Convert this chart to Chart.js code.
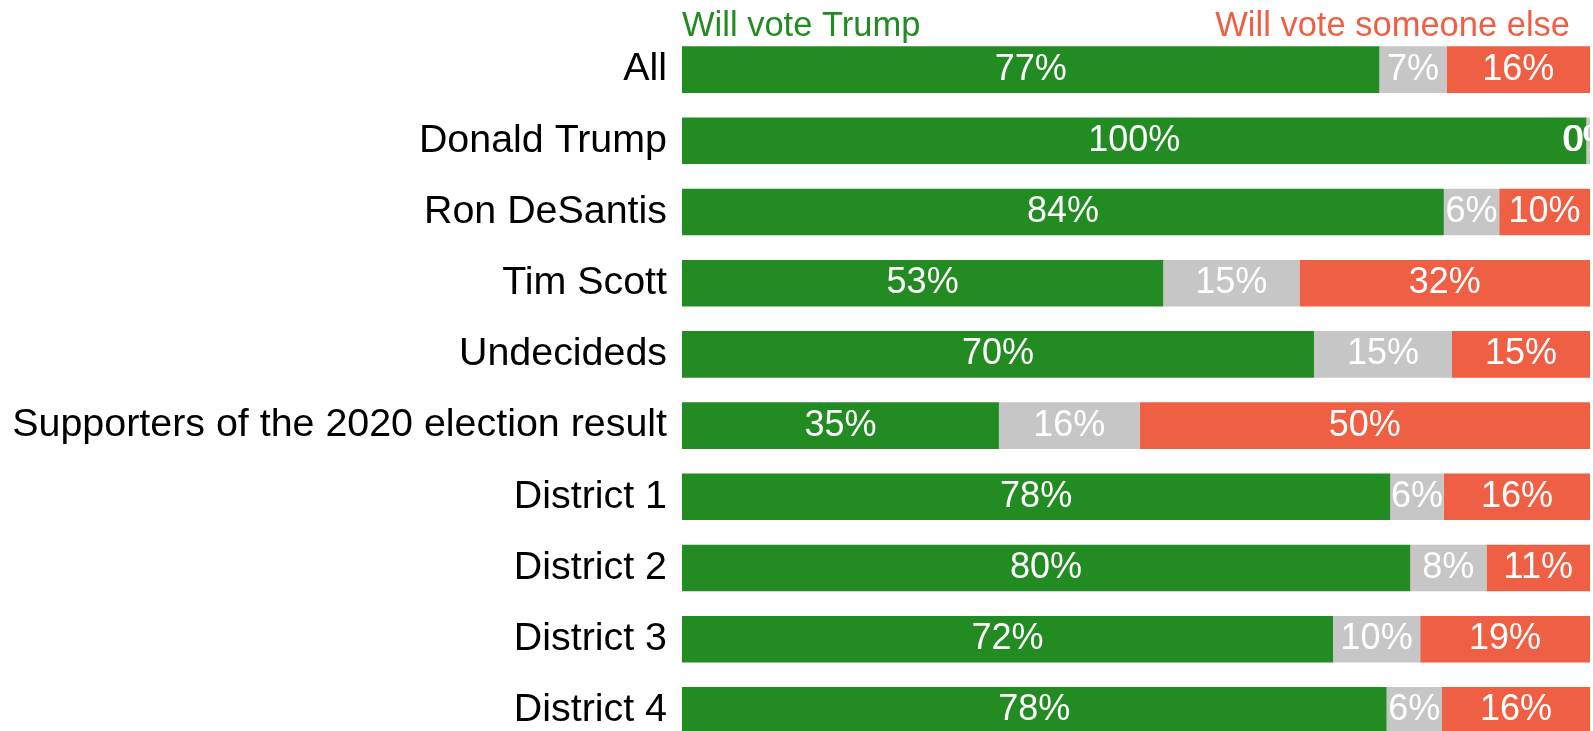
<!DOCTYPE html>
<html>
<head>
<meta charset="utf-8">
<script src="https://cdn.jsdelivr.net/npm/chart.js@4/dist/chart.umd.min.js"></script>
<style>
  html, body { margin: 0; padding: 0; background: #fff; overflow: hidden; }
  #wrap { width: 1593px; height: 731px; overflow: hidden; }
</style>
</head>
<body>
<div id="wrap"><canvas id="myChart" width="1593" height="761"></canvas></div>
<script>
// chart data
const groups = [
  "All",
  "Donald Trump",
  "Ron DeSantis",
  "Tim Scott",
  "Undecideds",
  "Supporters of the 2020 election result",
  "District 1",
  "District 2",
  "District 3",
  "District 4",
];
const voteTrump = [76.8, 99.6, 83.9, 53.0, 69.6, 34.9, 78.0, 80.2, 71.7, 77.6];
const unsure = [7.4, 0.4, 6.1, 15.0, 15.2, 15.5, 5.9, 8.4, 9.6, 6.1];
const voteElse = [15.8, 0, 10.0, 32.0, 15.2, 49.6, 16.1, 11.4, 18.7, 16.3];

const green = "#228B22";
const grey = "#C6C6C6";
const red = "#EF5F44";
const font = "'Liberation Sans', Arial, sans-serif";

// white percent labels in the middle of every bar piece
const barLabels = {
  id: "barLabels",
  afterDatasetsDraw(chart) {
    const ctx = chart.ctx;
    const area = chart.chartArea;
    ctx.save();
    ctx.beginPath();
    ctx.rect(area.left, 0, area.right - area.left, chart.height);
    ctx.clip();
    ctx.font = "36px " + font;
    ctx.fillStyle = "#ffffff";
    ctx.textAlign = "center";
    ctx.textBaseline = "middle";
    chart.data.datasets.forEach((ds, i) => {
      chart.getDatasetMeta(i).data.forEach((bar, j) => {
        const mid = (bar.x + bar.base) / 2;
        ctx.fillText(Math.round(ds.data[j]) + "%", mid, bar.y);
      });
    });
    ctx.restore();
  },
};

// the two headers above the bars
const headers = {
  id: "headers",
  afterDraw(chart) {
    const ctx = chart.ctx;
    const area = chart.chartArea;
    ctx.save();
    ctx.font = "34.5px " + font;
    ctx.textBaseline = "alphabetic";
    ctx.fillStyle = green;
    ctx.textAlign = "left";
    ctx.fillText("Will vote Trump", area.left, 36);
    ctx.fillStyle = red;
    ctx.textAlign = "right";
    ctx.fillText("Will vote someone else", area.right - 20, 36);
    ctx.restore();
  },
};

const ctx = document.getElementById("myChart");
const chart = new Chart(ctx, {
  type: "bar",
  data: {
    labels: groups,
    datasets: [
      { label: "Will vote Trump", data: voteTrump, backgroundColor: green },
      { label: "Unsure", data: unsure, backgroundColor: grey },
      { label: "Will vote someone else", data: voteElse, backgroundColor: red },
    ],
  },
  options: {
    indexAxis: "y",
    responsive: false,
    animation: false,
    devicePixelRatio: 1,
    layout: { padding: { top: 34, right: 3, bottom: 0, left: 0 } },
    datasets: {
      bar: { categoryPercentage: 1, barPercentage: 0.655, borderWidth: 0 },
    },
    plugins: {
      legend: { display: false },
      tooltip: { enabled: false },
    },
    scales: {
      x: {
        stacked: true,
        min: 0,
        max: 100,
        display: false,
      },
      y: {
        stacked: true,
        grid: { display: false, drawTicks: false },
        border: { display: false },
        ticks: {
          padding: 15,
          color: "#000000",
          font: { family: font, size: 39.4, lineHeight: 0 },
        },
        afterFit(scale) {
          scale.width = 682;
        },
      },
    },
  },
  plugins: [barLabels, headers],
});
</script>
</body>
</html>
